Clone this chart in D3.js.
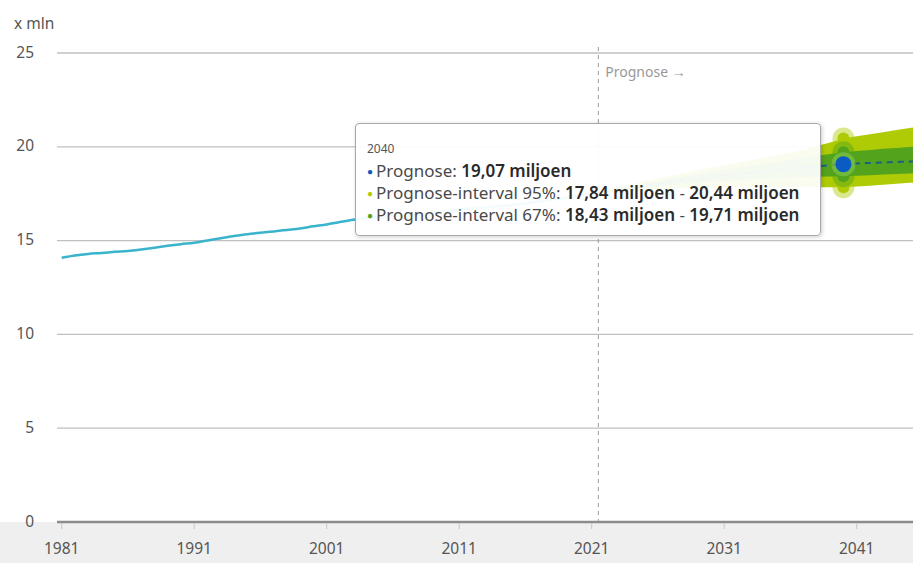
<!DOCTYPE html>
<html>
<head>
<meta charset="utf-8">
<script src="https://cdn.jsdelivr.net/npm/d3@7"></script>
<style>
	body { margin: 0; background: #fff; font-family: "Noto Sans", "Open Sans", sans-serif; }
	#wrap { position: relative; width: 913px; height: 563px; overflow: hidden; }
	svg { position: absolute; left: 0; top: 0; }
	.tip {
		position: absolute;
		background: rgba(255, 255, 255, 0.94);
		border: 1px solid #a8a8a8;
		border-radius: 4px;
		box-shadow: 1px 1px 4px rgba(0, 0, 0, 0.2);
		color: #4a4a4a;
		font-size: 17px;
		line-height: 22px;
		padding: 17px 4px 4px 11px;
		box-sizing: border-box;
		white-space: nowrap;
	}
	.tip .title { font-size: 12px; line-height: 16px; color: #555; margin-bottom: 3px; }
	.tip b { color: #2a2a2a; font-weight: 600; }
	.tip .dot { font-size: 10px; margin-right: 3px; vertical-align: 2px; }
</style>
</head>
<body>
<div id="wrap"></div>
<script>
	"use strict";

	/***** Data *****/

	// Bevolking op 1 januari (x mln)
	var histYears = [1981, 1982, 1983, 1984, 1985, 1986, 1987, 1988, 1989, 1990,
		1991, 1992, 1993, 1994, 1995, 1996, 1997, 1998, 1999, 2000,
		2001, 2002, 2003, 2004, 2005, 2006, 2007, 2008, 2009, 2010,
		2011, 2012, 2013, 2014, 2015, 2016, 2017, 2018, 2019, 2020, 2021];
	var histValues = [14.09, 14.21, 14.29, 14.34, 14.40, 14.45, 14.53, 14.62, 14.72, 14.81,
		14.89, 15.01, 15.13, 15.24, 15.34, 15.42, 15.49, 15.57, 15.65, 15.76,
		15.86, 15.99, 16.11, 16.19, 16.26, 16.31, 16.33, 16.36, 16.49, 16.58,
		16.66, 16.73, 16.78, 16.83, 16.90, 16.98, 17.08, 17.18, 17.28, 17.41, 17.48];

	// Prognose met intervallen
	var progYears = [2021, 2022, 2023, 2024, 2025, 2026, 2027, 2028, 2029, 2030,
		2031, 2032, 2033, 2034, 2035, 2036, 2037, 2038, 2039, 2040,
		2041, 2042, 2043, 2044, 2045, 2046];
	var progValues = [17.48, 17.59, 17.70, 17.81, 17.92, 18.02, 18.12, 18.22, 18.31, 18.40,
		18.48, 18.56, 18.63, 18.70, 18.77, 18.84, 18.90, 18.96, 19.02, 19.07,
		19.11, 19.14, 19.17, 19.19, 19.21, 19.23];
	var low95 = [17.48, 17.53, 17.58, 17.63, 17.69, 17.73, 17.77, 17.80, 17.82, 17.84,
		17.85, 17.86, 17.86, 17.86, 17.86, 17.86, 17.85, 17.85, 17.84, 17.84,
		17.88, 17.93, 17.98, 18.03, 18.08, 18.12];
	var high95 = [17.48, 17.66, 17.83, 18.00, 18.16, 18.31, 18.46, 18.61, 18.75, 18.89,
		19.02, 19.15, 19.28, 19.41, 19.54, 19.68, 19.86, 20.04, 20.23, 20.44,
		20.56, 20.67, 20.78, 20.89, 21.00, 21.10];
	var low67 = [17.48, 17.56, 17.64, 17.72, 17.80, 17.87, 17.94, 18.01, 18.07, 18.13,
		18.18, 18.22, 18.26, 18.30, 18.33, 18.36, 18.38, 18.40, 18.42, 18.43,
		18.46, 18.49, 18.52, 18.55, 18.58, 18.60];
	var high67 = [17.48, 17.62, 17.76, 17.90, 18.04, 18.17, 18.30, 18.43, 18.55, 18.67,
		18.78, 18.89, 18.99, 19.10, 19.20, 19.30, 19.42, 19.52, 19.62, 19.71,
		19.77, 19.83, 19.89, 19.94, 19.99, 20.04];

	var xTicks = [1981, 1991, 2001, 2011, 2021, 2031, 2041];
	var yTicks = [0, 5, 10, 15, 20, 25];
	var forecastStart = 2021.5;
	var hoverYear = 2040;

	/***** Constants *****/
	const width = 913;
	const height = 563;
	const gridLeft = 57;
	const axisFont = 15.5;

	const colHist = "#3ab3cc";
	const colProg = "#0a5bc4";
	const col95 = "#afcb05";
	const col67 = "#53a31d";

	var nl = d3.formatLocale({ decimal: ",", thousands: ".", grouping: [3], currency: ["€", ""] });
	var fmt = nl.format(".2f");

	/***** Scales *****/
	var x = d3.scaleLinear().domain([1981, 2041]).range([61.7, 856.7]);
	var y = d3.scaleLinear().domain([0, 25]).range([522, 53]);

	var wrap = d3.select("#wrap");
	var svg = wrap.append("svg").attr("width", width).attr("height", height);

	// Grey band below the axis
	svg.append("rect")
		.attr("x", 0).attr("y", y(0))
		.attr("width", width).attr("height", height - y(0))
		.attr("fill", "#efefef");

	// Gridlines
	svg.append("g").selectAll("line")
		.data(yTicks.filter(function (d) { return d > 0; }))
		.join("line")
		.attr("x1", gridLeft).attr("x2", width)
		.attr("y1", function (d) { return y(d); })
		.attr("y2", function (d) { return y(d); })
		.attr("stroke", "#c0c0c0")
		.attr("stroke-width", 1.3);

	// Y labels
	svg.append("g").selectAll("text")
		.data(yTicks)
		.join("text")
		.attr("x", 34)
		.attr("y", function (d) { return y(d); })
		.attr("dy", "0.3em")
		.attr("text-anchor", "end")
		.attr("font-size", axisFont)
		.attr("fill", "#555")
		.text(function (d) { return d; });

	svg.append("text")
		.attr("x", 14).attr("y", 29)
		.attr("font-size", axisFont)
		.attr("fill", "#555")
		.text("x mln");

	/***** Forecast bands *****/
	var prog = progYears.map(function (yr, i) {
		return { year: yr, v: progValues[i], lo95: low95[i], hi95: high95[i], lo67: low67[i], hi67: high67[i] };
	});

	var area95 = d3.area()
		.x(function (d) { return x(d.year); })
		.y0(function (d) { return y(d.lo95); })
		.y1(function (d) { return y(d.hi95); });
	var area67 = d3.area()
		.x(function (d) { return x(d.year); })
		.y0(function (d) { return y(d.lo67); })
		.y1(function (d) { return y(d.hi67); });

	svg.append("path").datum(prog).attr("d", area95).attr("fill", col95);
	svg.append("path").datum(prog).attr("d", area67).attr("fill", col67);

	// Historical line
	var hist = histYears.map(function (yr, i) { return { year: yr, v: histValues[i] }; });
	var line = d3.line()
		.x(function (d) { return x(d.year); })
		.y(function (d) { return y(d.v); })
		.curve(d3.curveMonotoneX);

	svg.append("path").datum(hist)
		.attr("d", line)
		.attr("fill", "none")
		.attr("stroke", colHist)
		.attr("stroke-width", 2.5);

	// Forecast line (dashed)
	svg.append("path").datum(prog)
		.attr("d", line)
		.attr("fill", "none")
		.attr("stroke", "#1c5f86")
		.attr("stroke-width", 2)
		.attr("stroke-dasharray", "6,5");

	/***** Forecast divider *****/
	svg.append("line")
		.attr("x1", x(forecastStart)).attr("x2", x(forecastStart))
		.attr("y1", 47).attr("y2", y(0))
		.attr("stroke", "#9a9a9a")
		.attr("stroke-width", 1)
		.attr("stroke-dasharray", "4,4");

	svg.append("text")
		.attr("x", x(forecastStart) + 7).attr("y", 77)
		.attr("font-size", 14)
		.attr("fill", "#999")
		.text("Prognose \u2192");

	/***** X axis *****/
	svg.append("line")
		.attr("x1", gridLeft).attr("x2", width)
		.attr("y1", y(0)).attr("y2", y(0))
		.attr("stroke", "#8c8c8c")
		.attr("stroke-width", 2.5);

	var xa = svg.append("g");
	xa.selectAll("line")
		.data(xTicks)
		.join("line")
		.attr("x1", function (d) { return x(d); })
		.attr("x2", function (d) { return x(d); })
		.attr("y1", y(0) + 1).attr("y2", y(0) + 7)
		.attr("stroke", "#c8c8c8");
	xa.selectAll("text")
		.data(xTicks)
		.join("text")
		.attr("x", function (d) { return x(d); })
		.attr("y", 554)
		.attr("text-anchor", "middle")
		.attr("font-size", axisFont)
		.attr("fill", "#555")
		.text(function (d) { return d; });

	/***** Hover markers at 2040 *****/
	var h = prog[progYears.indexOf(hoverYear)];
	var hx = x(h.year);
	var g = svg.append("g");

	[[h.hi95, col95], [h.lo95, col95], [h.hi67, col67], [h.lo67, col67]].forEach(function (m) {
		g.append("circle").attr("cx", hx).attr("cy", y(m[0])).attr("r", 11).attr("fill", m[1]).attr("opacity", 0.45);
		g.append("circle").attr("cx", hx).attr("cy", y(m[0])).attr("r", 6).attr("fill", m[1]);
	});
	g.append("circle").attr("cx", hx).attr("cy", y(h.v)).attr("r", 12).attr("fill", "#7fc24a").attr("opacity", 0.7);
	g.append("circle").attr("cx", hx).attr("cy", y(h.v)).attr("r", 8).attr("fill", colProg);

	/***** Tooltip *****/
	var tip = wrap.append("div").attr("class", "tip")
		.style("left", "355px").style("top", "123px")
		.style("width", "466px").style("height", "113px");

	tip.append("div").attr("class", "title").text(hoverYear);
	var rows = [
		[colProg, "Prognose: ", "<b>" + fmt(h.v) + " miljoen</b>"],
		[col95, "Prognose-interval 95%: ", "<b>" + fmt(h.lo95) + " miljoen</b> - <b>" + fmt(h.hi95) + " miljoen</b>"],
		[col67, "Prognose-interval 67%: ", "<b>" + fmt(h.lo67) + " miljoen</b> - <b>" + fmt(h.hi67) + " miljoen</b>"]
	];
	rows.forEach(function (r) {
		var row = tip.append("div");
		row.append("span").attr("class", "dot").style("color", r[0]).text("\u25CF");
		row.append("span").text(r[1]);
		row.append("span").html(r[2]);
	});
</script>
</body>
</html>
